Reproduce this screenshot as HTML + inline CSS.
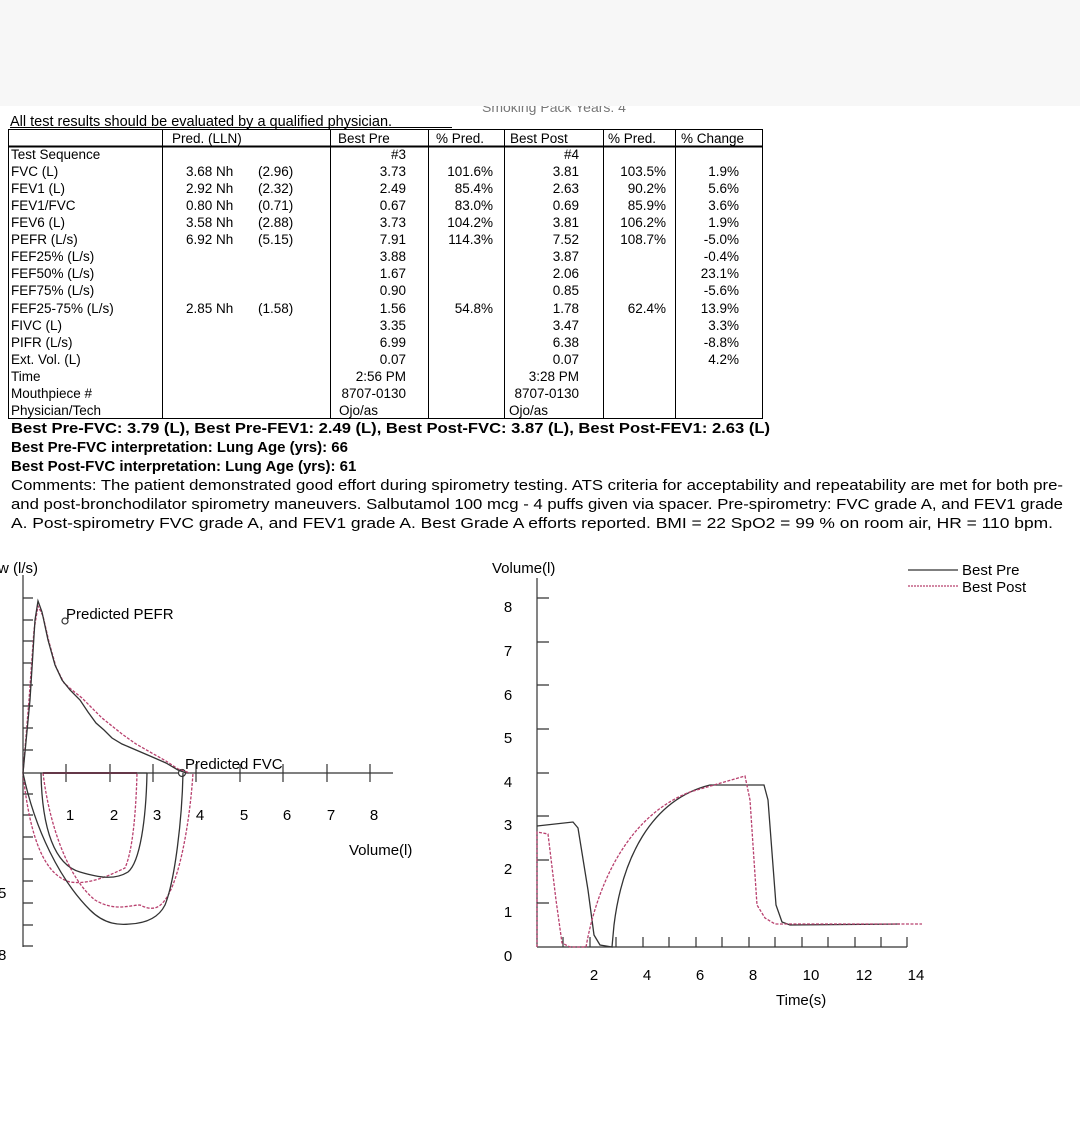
<!DOCTYPE html>
<html><head><style>
html,body{margin:0;padding:0;background:#fff;}
svg{display:block;font-family:"Liberation Sans",Arial,sans-serif;}
</style></head><body>
<svg width="1080" height="1142" viewBox="0 0 1080 1142" xmlns="http://www.w3.org/2000/svg">
<rect x="0" y="0" width="1080" height="1142" fill="#fff"/>
<text x="482" y="112" font-size="14" fill="#777">Smoking Pack Years:    4</text>
<rect x="0" y="0" width="1080" height="106" fill="#f7f7f7"/>
<text x="10" y="126" font-size="14.5">All test results should be evaluated by a qualified physician.</text>
<line x1="10" y1="127.5" x2="452" y2="127.5" stroke="#000" stroke-width="1"/>
<g stroke="#000" fill="none" stroke-width="1">
<rect x="8.5" y="129.5" width="754" height="289"/>
<line x1="8" y1="146.5" x2="763" y2="146.5" stroke-width="2"/>
<line x1="162.5" y1="129" x2="162.5" y2="419"/>
<line x1="330.5" y1="129" x2="330.5" y2="419"/>
<line x1="428.5" y1="129" x2="428.5" y2="419"/>
<line x1="504.5" y1="129" x2="504.5" y2="419"/>
<line x1="603.5" y1="129" x2="603.5" y2="419"/>
<line x1="675.5" y1="129" x2="675.5" y2="419"/>
</g>
<g font-size="13.5">
<text x="172" y="143">Pred. (LLN)</text><text x="338" y="143">Best Pre</text><text x="436" y="143">% Pred.</text><text x="510" y="143">Best Post</text><text x="608" y="143">% Pred.</text><text x="681" y="143">% Change</text>
<g>
<text x="11" y="159">Test Sequence</text><text x="11" y="176">FVC (L)</text><text x="11" y="193">FEV1 (L)</text><text x="11" y="210">FEV1/FVC</text><text x="11" y="227">FEV6 (L)</text><text x="11" y="244">PEFR (L/s)</text><text x="11" y="261">FEF25% (L/s)</text><text x="11" y="278">FEF50% (L/s)</text><text x="11" y="295">FEF75% (L/s)</text><text x="11" y="313">FEF25-75% (L/s)</text><text x="11" y="330">FIVC (L)</text><text x="11" y="347">PIFR (L/s)</text><text x="11" y="364">Ext. Vol. (L)</text><text x="11" y="381">Time</text><text x="11" y="398">Mouthpiece #</text><text x="11" y="415">Physician/Tech</text>
</g>
<g>
<text x="186" y="176">3.68 Nh</text><text x="258" y="176">(2.96)</text>
<text x="186" y="193">2.92 Nh</text><text x="258" y="193">(2.32)</text>
<text x="186" y="210">0.80 Nh</text><text x="258" y="210">(0.71)</text>
<text x="186" y="227">3.58 Nh</text><text x="258" y="227">(2.88)</text>
<text x="186" y="244">6.92 Nh</text><text x="258" y="244">(5.15)</text>
<text x="186" y="313">2.85 Nh</text><text x="258" y="313">(1.58)</text>
</g>
<g text-anchor="end">
<text x="406" y="159">#3</text><text x="406" y="176">3.73</text><text x="406" y="193">2.49</text><text x="406" y="210">0.67</text><text x="406" y="227">3.73</text><text x="406" y="244">7.91</text><text x="406" y="261">3.88</text><text x="406" y="278">1.67</text><text x="406" y="295">0.90</text><text x="406" y="313">1.56</text><text x="406" y="330">3.35</text><text x="406" y="347">6.99</text><text x="406" y="364">0.07</text><text x="406" y="381">2:56 PM</text><text x="406" y="398">8707-0130</text>
<text x="493" y="176">101.6%</text><text x="493" y="193">85.4%</text><text x="493" y="210">83.0%</text><text x="493" y="227">104.2%</text><text x="493" y="244">114.3%</text><text x="493" y="313">54.8%</text>
<text x="579" y="159">#4</text><text x="579" y="176">3.81</text><text x="579" y="193">2.63</text><text x="579" y="210">0.69</text><text x="579" y="227">3.81</text><text x="579" y="244">7.52</text><text x="579" y="261">3.87</text><text x="579" y="278">2.06</text><text x="579" y="295">0.85</text><text x="579" y="313">1.78</text><text x="579" y="330">3.47</text><text x="579" y="347">6.38</text><text x="579" y="364">0.07</text><text x="579" y="381">3:28 PM</text><text x="579" y="398">8707-0130</text>
<text x="666" y="176">103.5%</text><text x="666" y="193">90.2%</text><text x="666" y="210">85.9%</text><text x="666" y="227">106.2%</text><text x="666" y="244">108.7%</text><text x="666" y="313">62.4%</text>
<text x="739" y="176">1.9%</text><text x="739" y="193">5.6%</text><text x="739" y="210">3.6%</text><text x="739" y="227">1.9%</text><text x="739" y="244">-5.0%</text><text x="739" y="261">-0.4%</text><text x="739" y="278">23.1%</text><text x="739" y="295">-5.6%</text><text x="739" y="313">13.9%</text><text x="739" y="330">3.3%</text><text x="739" y="347">-8.8%</text><text x="739" y="364">4.2%</text>
</g>
<text x="339" y="415">Ojo/as</text><text x="509" y="415">Ojo/as</text>
</g>
<g font-size="15">
<text x="11" y="433" font-weight="bold" textLength="759" lengthAdjust="spacingAndGlyphs">Best Pre-FVC: 3.79 (L), Best Pre-FEV1: 2.49 (L), Best Post-FVC: 3.87 (L), Best Post-FEV1: 2.63 (L)</text>
<text x="11" y="452" font-weight="bold">Best Pre-FVC interpretation:  Lung Age (yrs): 66</text>
<text x="11" y="471" font-weight="bold">Best Post-FVC interpretation:  Lung Age (yrs): 61</text>
<text x="11" y="490" textLength="1052" lengthAdjust="spacingAndGlyphs">Comments: The patient demonstrated good effort during spirometry testing. ATS criteria for acceptability and repeatability are met for both pre-</text>
<text x="11" y="509" textLength="1052" lengthAdjust="spacingAndGlyphs">and post-bronchodilator spirometry maneuvers. Salbutamol 100 mcg - 4 puffs given via spacer.  Pre-spirometry: FVC grade A, and FEV1 grade</text>
<text x="11" y="528" textLength="1042" lengthAdjust="spacingAndGlyphs">A.  Post-spirometry FVC grade A, and FEV1 grade A.  Best Grade A efforts reported.  BMI =  22  SpO2 =  99 % on room air,  HR = 110    bpm.</text>
</g>
<!-- Flow-volume -->
<g font-size="15">
<text x="-2" y="573">w (l/s)</text>
<text x="-2" y="898">5</text>
<text x="-2" y="960">8</text>
<text x="349" y="855">Volume(l)</text>
<text x="66" y="619">Predicted PEFR</text>
<text x="185" y="769">Predicted FVC</text>
<g text-anchor="middle"><text x="70" y="820">1</text><text x="114" y="820">2</text><text x="157" y="820">3</text><text x="200" y="820">4</text><text x="244" y="820">5</text><text x="287" y="820">6</text><text x="331" y="820">7</text><text x="374" y="820">8</text></g>
</g>
<g stroke="#333" stroke-width="1.2" fill="none">
<line x1="23" y1="575" x2="23" y2="947"/>
<line x1="23" y1="773" x2="393" y2="773"/>
<path d="M23,598h10M23,620h10M23,641h10M23,663h10M23,685h10M23,706h10M23,728h10M23,750h10M23,794h10M23,815h10M23,837h10M23,859h10M23,881h10M23,903h10M23,925h10M23,946h10"/>
<path d="M66,764v18M110,764v18M153,764v18M196,764v18M240,764v18M283,764v18M327,764v18M370,764v18"/>
<circle cx="65" cy="621" r="3" fill="#fff"/>
<circle cx="182" cy="773" r="3.5" fill="#fff"/>
</g>
<g fill="none" stroke-width="1.3">
<path stroke="#b8406e" stroke-dasharray="3,1.5" d="M23,773 L29,700 L34,630 L38,606 L43,616 L49,642 L56,667 L64,683 L72,690 L82,698 L92,708 L102,718 L112,726 L122,734 L136,744 L150,752 L166,761 L178,769 L190,773"/>
<path stroke="#333" d="M23,773 L30,700 L35,620 L38,601 L42,612 L48,640 L55,665 L62,680 L70,690 L80,700 L88,712 L96,723 L104,730 L112,738 L122,744 L136,750 L150,756 L166,763 L178,770 L186,773"/>
<path stroke="#b8406e" stroke-dasharray="3,1.5" d="M23,773 C30,840 45,875 70,882 C90,885 110,875 125,868 C133,850 136,810 137,773"/>
<path stroke="#333" d="M41,773 C42,830 55,865 80,872 C100,878 115,880 128,872 C140,862 146,820 147,773"/>
<path stroke="#b8406e" stroke-dasharray="3,1.5" d="M43,773 C50,830 70,880 95,900 C115,912 130,905 140,905 C150,910 158,910 165,900 C180,880 190,820 193,773"/>
<path stroke="#333" d="M23,773 C35,830 60,880 90,910 C105,925 120,925 130,924 C150,923 160,915 165,905 C175,880 182,820 183,773"/>
<path stroke="#b8406e" stroke-width="2" d="M43,773 L137,773"/>
<path stroke="#333" d="M43,773 L147,773"/>
</g>
<!-- Volume-time -->
<g font-size="15">
<text x="492" y="573">Volume(l)</text>
<g text-anchor="middle"><text x="508" y="612">8</text><text x="508" y="656">7</text><text x="508" y="700">6</text><text x="508" y="743">5</text><text x="508" y="787">4</text><text x="508" y="830">3</text><text x="508" y="874">2</text><text x="508" y="917">1</text><text x="508" y="961">0</text>
<text x="594" y="980">2</text><text x="647" y="980">4</text><text x="700" y="980">6</text><text x="753" y="980">8</text><text x="811" y="980">10</text><text x="864" y="980">12</text><text x="916" y="980">14</text></g>
<text x="776" y="1005">Time(s)</text>
<text x="962" y="575">Best Pre</text><text x="962" y="592">Best Post</text>
</g>
<line x1="908" y1="570" x2="958" y2="570" stroke="#333" stroke-width="1.2"/>
<line x1="908" y1="586" x2="958" y2="586" stroke="#b8406e" stroke-width="1.2" stroke-dasharray="2,1"/>
<g stroke="#333" stroke-width="1.2" fill="none">
<line x1="537" y1="578" x2="537" y2="947"/>
<line x1="537" y1="947" x2="907" y2="947"/>
<path d="M537,598h12M537,642h12M537,685h12M537,729h12M537,773h12M537,816h12M537,860h12M537,903h12"/>
<path d="M563,947v-10M590,947v-10M616,947v-10M643,947v-10M669,947v-10M696,947v-10M722,947v-10M749,947v-10M775,947v-10M802,947v-10M828,947v-10M855,947v-10M881,947v-10M907,947v-10"/>
</g>
<g fill="none" stroke-width="1.3">
<path stroke="#333" d="M537,826 L573,822 L578,828 L588,890 L594,935 L600,945 L612,947 L614,925 C622,860 650,800 710,785 L764,785 L768,800 L776,905 L782,922 L790,925 L900,924"/>
<path stroke="#b8406e" stroke-dasharray="3,1.5" d="M537,947 L537,832 L548,834 L556,900 L562,943 L570,947 L586,947 C598,880 630,815 690,792 L745,776 L750,800 L757,905 L765,918 L775,924 L922,924"/>
</g>
</svg>
</body></html>
